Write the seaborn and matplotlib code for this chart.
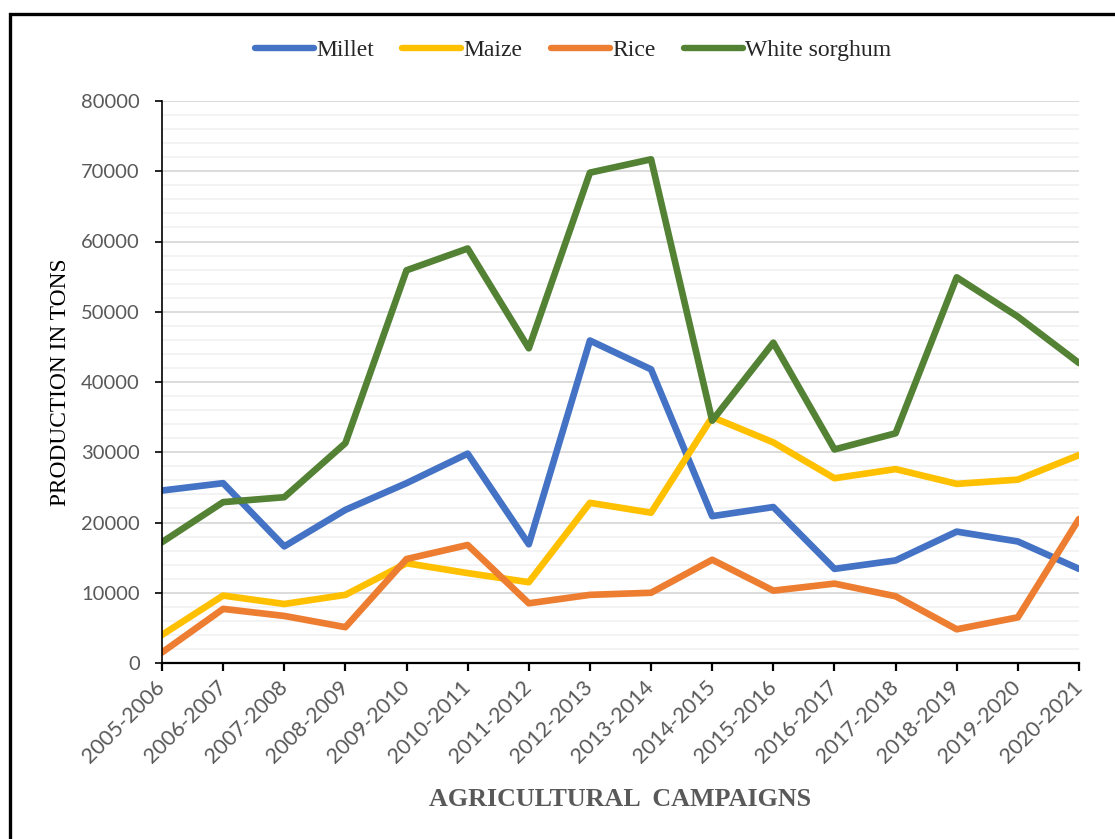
import matplotlib
matplotlib.use("Agg")
import matplotlib.pyplot as plt
import seaborn as sns
import pandas as pd
from matplotlib.ticker import MultipleLocator
from matplotlib.lines import Line2D

campaigns = ["2005-2006", "2006-2007", "2007-2008", "2008-2009", "2009-2010",
             "2010-2011", "2011-2012", "2012-2013", "2013-2014", "2014-2015",
             "2015-2016", "2016-2017", "2017-2018", "2018-2019", "2019-2020",
             "2020-2021"]
millet = [24550, 25600, 16600, 21800, 25600, 29800, 16900, 45900, 41800, 20900,
          22200, 13400, 14600, 18700, 17300, 13400]
maize = [4000, 9600, 8400, 9700, 14200, 12800, 11500, 22800, 21400, 35000,
         31400, 26300, 27600, 25500, 26100, 29600]
rice = [1500, 7700, 6700, 5100, 14800, 16800, 8500, 9700, 10000, 14700,
        10300, 11300, 9500, 4800, 6500, 20500]
white_sorghum = [17200, 22900, 23600, 31300, 55900, 59000, 44800, 69800, 71700,
                 34500, 45600, 30400, 32700, 54900, 49300, 42700]

series_names = ["Millet", "Maize", "Rice", "White sorghum"]
series_values = [millet, maize, rice, white_sorghum]
colors = ["#4472C4", "#FFC000", "#ED7D31", "#548235"]

rows = []
for name, vals in zip(series_names, series_values):
    for c, v in zip(campaigns, vals):
        rows.append({"Campaign": c, "Production": v, "Crop": name})
df = pd.DataFrame(rows)

sns.set_theme(style="white")
plt.rcParams["font.family"] = ["DejaVu Sans"]

fig = plt.figure(figsize=(11.15, 8.39), dpi=100)
ax = fig.add_axes([162/1115, 1-663/839, (1079-162)/1115, (663-101)/839])

sns.lineplot(data=df, x="Campaign", y="Production", hue="Crop",
             hue_order=series_names, palette=colors, sort=False,
             linewidth=4.8, ax=ax, legend=False)
for ln in ax.lines:
    ln.set_solid_joinstyle("round")
    ln.set_solid_capstyle("round")

ax.set_xlim(0, len(campaigns) - 1)
ax.set_ylim(0, 80000)
ax.yaxis.set_major_locator(MultipleLocator(10000))
ax.yaxis.set_minor_locator(MultipleLocator(2000))
ax.grid(True, axis="y", which="major", color="#D9D9D9", linewidth=1.3, zorder=0)
ax.grid(True, axis="y", which="minor", color="#F2F2F2", linewidth=1.3, zorder=0)
ax.grid(False, axis="x")
ax.set_axisbelow(True)

for s in ["top", "right"]:
    ax.spines[s].set_visible(False)
ax.spines["left"].set_color("#000000")
ax.spines["left"].set_linewidth(1.2)
ax.spines["bottom"].set_color("#000000")
ax.spines["bottom"].set_linewidth(1.6)

ax.tick_params(axis="y", which="major", direction="out", length=5, width=1.2,
               color="#000000", pad=11, labelsize=14.5, labelcolor="#595959", left=True)
ax.tick_params(axis="y", which="minor", length=0)
ax.tick_params(axis="x", which="major", direction="out", length=6, width=1.6,
               color="#000000", pad=9, labelsize=15.5, labelcolor="#595959", bottom=True)
for lab in ax.get_yticklabels():
    lab.set_fontfamily("Lato")
ax.set_xticks(range(len(campaigns)))
ax.set_xticklabels(campaigns, rotation=45, ha="right", va="center",
                   rotation_mode="anchor", fontfamily="Lato")

ax.set_xlabel("AGRICULTURAL  CAMPAIGNS", fontfamily="Liberation Serif",
              fontweight="bold", fontsize=18.7, color="#595959", va="center")
ax.xaxis.set_label_coords(0.5, (663-799)/562)
ax.set_ylabel("PRODUCTION IN TONS", fontfamily="Liberation Serif",
              fontsize=16.8, color="#000000", va="center")
ax.yaxis.set_label_coords((61-162)/917, 0.5)

handles = [Line2D([0], [0], color=c, linewidth=4.6, solid_capstyle="round")
           for c in colors]
fig.legend(handles, series_names, loc="center", bbox_to_anchor=(573/1115, 1-50/839),
           ncol=4, frameon=False, handlelength=2.5, handletextpad=0.1,
           columnspacing=1.2, prop={"family": "Liberation Serif", "size": 17})

# outer frame (left and top edges visible)
fig.add_artist(Line2D([10/1115, 10/1115, 1.0], [0.0, 1-14/839, 1-14/839],
                      transform=fig.transFigure, color="black", linewidth=2.4,
                      solid_joinstyle="miter"))

fig.savefig("out.png", dpi=100)
